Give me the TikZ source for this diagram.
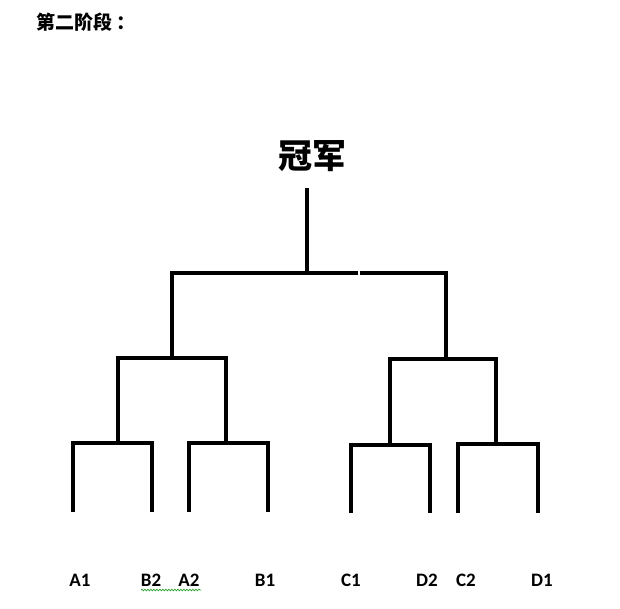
\documentclass[tikz,border=0pt]{standalone}
\usepackage{fontspec}
\newfontfamily\cjk{Noto Sans CJK SC}
\newfontfamily\labfont{Carlito}
\usetikzlibrary{decorations.pathmorphing}
\definecolor{squig}{RGB}{40,160,40}
\tikzset{
  wire/.style={line width=3.6pt, line cap=butt, line join=miter, draw=black},
  player/.style={font=\labfont\bfseries\fontsize{19}{19}\selectfont, inner sep=0pt},
}
\begin{document}
\begin{tikzpicture}[x=1pt,y=-1pt]
\useasboundingbox (0,0) rectangle (620,609);
% texts
\node[font=\cjk\bfseries\fontsize{19}{19}\selectfont, anchor=west, inner sep=0pt] (title) at (36,22) {第二阶段\hspace{4pt}：};
\node[font=\cjk\bfseries\fontsize{34}{34}\selectfont, inner sep=0pt] (champ) at (312,156) {冠军};
% player labels
\node[player] (A1) at (80,580) {A1};
\node[player] (B2) at (151,580) {B2};
\node[player] (A2) at (189,580) {A2};
\node[player] (B1) at (265,580) {B1};
\node[player] (C1) at (351,580) {C1};
\node[player] (D2) at (427,580) {D2};
\node[player] (C2) at (466,580) {C2};
\node[player] (D1) at (542,580) {D1};
% bracket points
\coordinate (top) at (307,188);
\coordinate (fin) at (307,273);
\coordinate (finL) at (172,273);
\coordinate (finR) at (446,273);
\coordinate (finM) at (359,273);
\coordinate (sL) at (172,358);
\coordinate (sR) at (446,359);
\coordinate (sLl) at (118,358);
\coordinate (sLr) at (226,358);
\coordinate (sRl) at (390,359);
\coordinate (sRr) at (496,359);
\coordinate (q1) at (118,443);
\coordinate (q2) at (226,443);
\coordinate (q3) at (390,445);
\coordinate (q4) at (496,444);
\coordinate (q1l) at (73,443);  \coordinate (q1r) at (152,443);
\coordinate (q2l) at (189,443); \coordinate (q2r) at (268,443);
\coordinate (q3l) at (351,445); \coordinate (q3r) at (430,445);
\coordinate (q4l) at (458,444); \coordinate (q4r) at (538,444);
\coordinate (eA1) at (73,512);  \coordinate (eB2) at (152,512);
\coordinate (eA2) at (189,512); \coordinate (eB1) at (268,512);
\coordinate (eC1) at (351,513); \coordinate (eD2) at (430,513);
\coordinate (eC2) at (458,513); \coordinate (eD1) at (538,513);
% squiggle end points
\coordinate (sqL) at (141,590);
\coordinate (sqR) at (201,590);
% final
\draw[wire] (top) -- (fin);
\draw[wire, line width=3.2pt] ([xshift=-1.6pt]finL) -- ([xshift=-0.7pt]finM);
\draw[wire, line width=3.2pt] ([xshift=0.7pt]finM) -- ([xshift=1.6pt]finR);
\draw[wire] (finL) -- (sL);
\draw[wire] (finR) -- (sR);
% semis
\draw[wire] (q1) -- (sLl) -- (sLr) -- (q2);
\draw[wire] (q3) -- (sRl) -- (sRr) -- (q4);
% quarters
\draw[wire] (eA1) -- (q1l) -- (q1r) -- (eB2);
\draw[wire] (eA2) -- (q2l) -- (q2r) -- (eB1);
\draw[wire] (eC1) -- (q3l) -- (q3r) -- (eD2);
\draw[wire] (eC2) -- (q4l) -- (q4r) -- (eD1);
% spell-check squiggle under "B2 A2"
\draw[squig, line width=0.7pt, decorate, decoration={snake, amplitude=0.8pt, segment length=3pt}]
  (sqL) -- (sqR);
\end{tikzpicture}
\end{document}
